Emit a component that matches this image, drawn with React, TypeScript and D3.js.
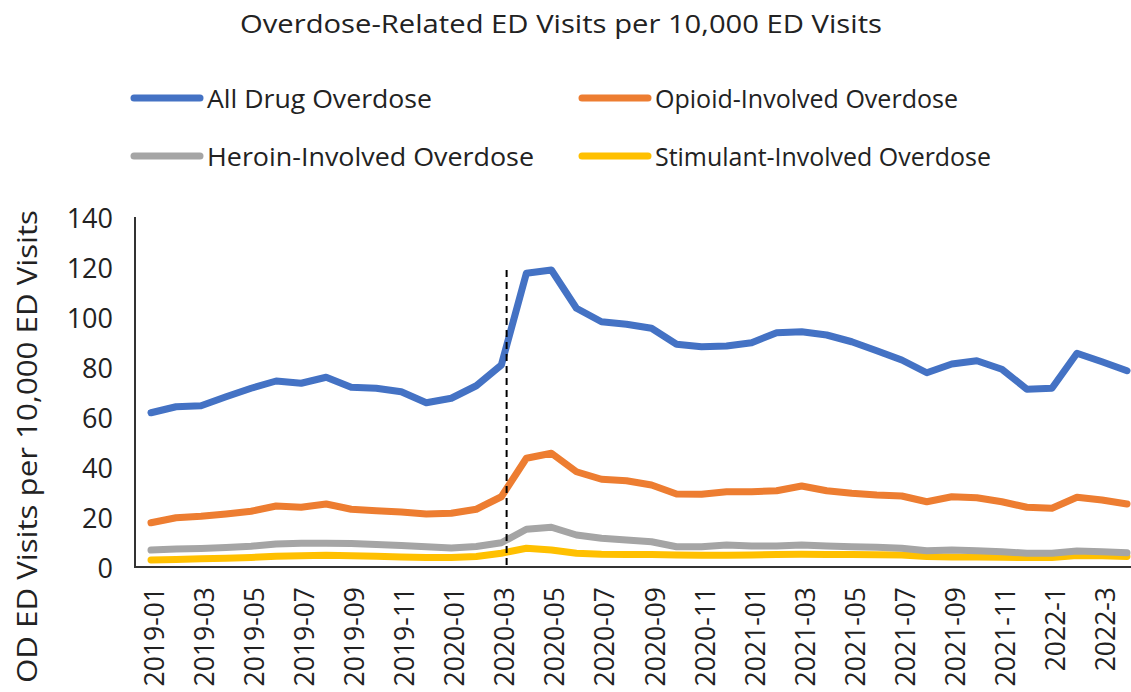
import React from "react";
import * as d3 from "d3";

const months: string[] = [
  "2019-01","2019-02","2019-03","2019-04","2019-05","2019-06","2019-07","2019-08","2019-09","2019-10","2019-11","2019-12",
  "2020-01","2020-02","2020-03","2020-04","2020-05","2020-06","2020-07","2020-08","2020-09","2020-10","2020-11","2020-12",
  "2021-01","2021-02","2021-03","2021-04","2021-05","2021-06","2021-07","2021-08","2021-09","2021-10","2021-11","2021-12",
  "2022-1","2022-2","2022-3","2022-4",
];

const tickLabels: string[] = [
  "2019-01","2019-03","2019-05","2019-07","2019-09","2019-11",
  "2020-01","2020-03","2020-05","2020-07","2020-09","2020-11",
  "2021-01","2021-03","2021-05","2021-07","2021-09","2021-11",
  "2022-1","2022-3",
];

const allDrug: number[] = [
  61.7, 64.1, 64.5, 68.1, 71.5, 74.4, 73.5, 75.9, 71.9, 71.5, 70.1, 65.7,
  67.5, 72.5, 80.8, 117.5, 118.8, 103.5, 98.1, 97.1, 95.5, 89.1, 88.1, 88.4,
  89.7, 93.7, 94.1, 92.8, 90.1, 86.5, 82.8, 77.7, 81.2, 82.5, 79.1, 71.1,
  71.5, 85.5, 82.1, 78.5,
];

const opioid: number[] = [
  17.7, 19.7, 20.3, 21.2, 22.3, 24.4, 23.9, 25.2, 23.1, 22.5, 22.0, 21.2,
  21.5, 23.1, 28.1, 43.5, 45.5, 38.1, 35.1, 34.5, 32.8, 29.2, 29.1, 30.1,
  30.1, 30.5, 32.4, 30.5, 29.5, 28.8, 28.4, 26.1, 28.1, 27.7, 26.1, 23.9,
  23.5, 27.9, 26.8, 25.2,
];

const heroin: number[] = [
  6.8, 7.2, 7.4, 7.8, 8.3, 9.2, 9.5, 9.5, 9.4, 9.0, 8.6, 8.1,
  7.6, 8.2, 9.7, 15.1, 15.9, 12.8, 11.5, 10.8, 10.1, 8.1, 8.1, 8.8,
  8.4, 8.4, 8.8, 8.4, 8.1, 7.9, 7.5, 6.5, 6.8, 6.5, 6.1, 5.5,
  5.5, 6.4, 6.1, 5.7,
];

const stimulant: number[] = [
  2.8, 3.0, 3.3, 3.5, 3.8, 4.3, 4.5, 4.7, 4.5, 4.3, 4.0, 3.8,
  3.8, 4.2, 5.5, 7.5, 6.8, 5.5, 5.1, 5.0, 5.0, 4.8, 4.7, 4.7,
  4.8, 5.0, 5.1, 5.0, 5.0, 4.9, 4.8, 4.2, 4.0, 4.0, 3.9, 3.8,
  3.8, 4.6, 4.5, 4.2,
];

const yTicks: number[] = [0, 20, 40, 60, 80, 100, 120, 140];

const seriesNames: string[] = [
  "All Drug Overdose",
  "Opioid-Involved Overdose",
  "Heroin-Involved Overdose",
  "Stimulant-Involved Overdose",
];
const seriesColors: string[] = ["#4472C4", "#ED7D31", "#A5A5A5", "#FFC000"];

const markerMonth = "2020-03";
const markerOffset = 0.21; // fraction of a month after the marker month

const titleText = "Overdose-Related ED Visits per 10,000 ED Visits";
const yTitle = "OD ED Visits per 10,000 ED Visits";

const FONT = "'Open Sans', 'DejaVu Sans', sans-serif";

export default function App() {
  const W = 1131;
  const H = 692;
  const x = d3.scalePoint<string>().domain(months).range([151, 1127]);
  const y = d3.scaleLinear().domain([0, 140]).range([567, 217]);
  const step = x.step();

  const data = [allDrug, opioid, heroin, stimulant];
  const line = d3
    .line<number>()
    .x((_, i) => x(months[i]) as number)
    .y((d) => y(d));

  const order = [3, 2, 1, 0];

  const markerX = (x(markerMonth) as number) + markerOffset * step;

  const legendPos = [
    { lx: 132, ly: 98, len: 225 },
    { lx: 580, ly: 98, len: 303 },
    { lx: 132, ly: 156, len: 327 },
    { lx: 580, ly: 156, len: 336 },
  ];

  return (
    <svg
      width={W}
      height={H}
      style={{ position: "absolute", left: 0, top: 0, background: "#fff" }}
      fontFamily={FONT}
    >
      <rect x={0} y={0} width={W} height={H} fill="#fff" />
      <text
        x={561}
        y={33}
        textAnchor="middle"
        fontSize={26}
        fill="#222"
        textLength={642}
        lengthAdjust="spacingAndGlyphs"
      >
        {titleText}
      </text>

      {seriesNames.map((name, i) => (
        <g key={name}>
          <line
            x1={legendPos[i].lx + 2}
            x2={legendPos[i].lx + 68}
            y1={legendPos[i].ly}
            y2={legendPos[i].ly}
            stroke={seriesColors[i]}
            strokeWidth={7}
            strokeLinecap="round"
          />
          <text
            x={legendPos[i].lx + 75}
            y={legendPos[i].ly}
            dominantBaseline="central"
            fontSize={25}
            fill="#222"
            textLength={legendPos[i].len}
            lengthAdjust="spacingAndGlyphs"
          >
            {name}
          </text>
        </g>
      ))}

      {yTicks.map((t) => (
        <text
          key={t}
          x={113}
          y={y(t)}
          textAnchor="end"
          dominantBaseline="central"
          fontSize={27}
          fill="#222"
        >
          {t}
        </text>
      ))}

      <text
        transform={`translate(26,446.5) rotate(-90)`}
        textAnchor="middle"
        dominantBaseline="central"
        fontSize={27}
        fill="#222"
        textLength={473}
        lengthAdjust="spacingAndGlyphs"
      >
        {yTitle}
      </text>

      {tickLabels.map((lab) => {
        const px = x(lab) as number;
        return (
          <text
            key={lab}
            transform={`translate(${px + 3},587) rotate(-90)`}
            textAnchor="end"
            dominantBaseline="central"
            fontSize={26.5}
            fill="#222"
          >
            {lab}
          </text>
        );
      })}

      {order.map((k) => (
        <path
          key={seriesNames[k]}
          d={line(data[k]) ?? ""}
          fill="none"
          stroke={seriesColors[k]}
          strokeWidth={7}
          strokeLinejoin="round"
          strokeLinecap="round"
        />
      ))}

      <line
        x1={markerX}
        x2={markerX}
        y1={270}
        y2={y(0) - 2}
        stroke="#000"
        strokeWidth={2}
        strokeDasharray="7,5"
      />

      <line x1={135} x2={135} y1={y(140)} y2={y(0)} stroke="#333" strokeWidth={2} />
      <line x1={134} x2={W} y1={y(0)} y2={y(0)} stroke="#333" strokeWidth={2} />
    </svg>
  );
}
